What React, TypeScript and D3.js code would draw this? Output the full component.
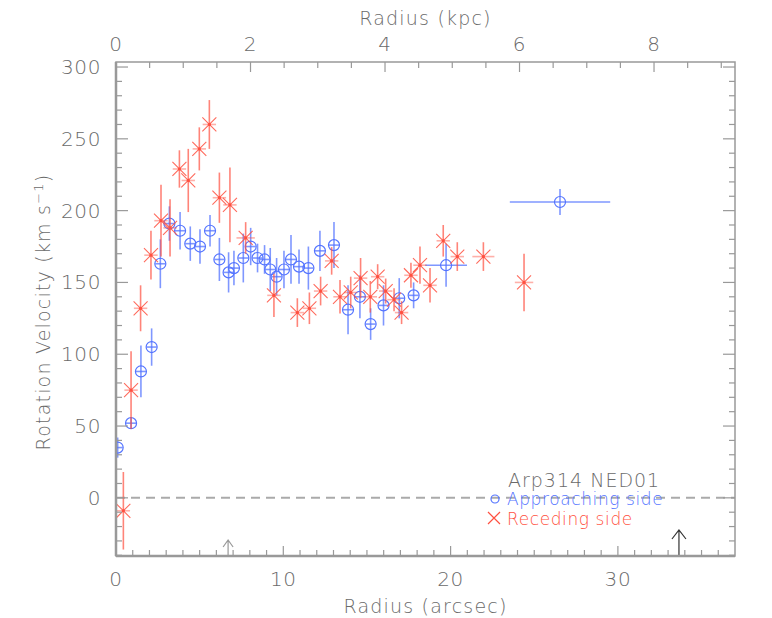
import { useEffect } from "react";
import * as d3 from "d3";

// approaching side (blue circles)
const appR = [0.1, 0.9, 1.49, 2.13, 2.65, 3.19, 3.83, 4.44, 5.02, 5.62, 6.18, 6.73, 7.05, 7.61, 8.05, 8.46, 8.88, 9.22, 9.6, 10.04, 10.46, 10.94, 11.5, 12.19, 13.03, 13.87, 14.58, 15.22, 15.99, 16.93, 17.79, 19.73, 26.54];
const appV = [35, 52, 88, 105, 163, 191, 186, 177, 175, 186, 166, 157, 160, 167, 175, 167, 166, 159, 154, 159, 166, 161, 160, 172, 176, 131, 140, 121, 134, 139, 141, 162, 206];
const appErr = [7, 4, 18, 13, 17, 12, 13, 12, 12, 11, 15, 14, 12, 17, 13, 10, 10, 15, 13, 13, 17, 12, 15, 14, 16, 17, 15, 11, 14, 14, 9, 15, 9];
const appRErr = [0.3, 0.3, 0.3, 0.3, 0.3, 0.3, 0.3, 0.3, 0.3, 0.3, 0.3, 0.3, 0.3, 0.3, 0.3, 0.3, 0.3, 0.3, 0.3, 0.3, 0.3, 0.3, 0.3, 0.3, 0.3, 0.3, 0.3, 0.3, 0.3, 0.3, 0.3, 1.25, 3.0];

// receding side (red crosses)
const recR = [0.44, 0.9, 1.47, 2.09, 2.69, 3.23, 3.79, 4.32, 4.98, 5.58, 6.18, 6.81, 7.75, 9.44, 10.84, 11.56, 12.23, 12.89, 13.39, 14.03, 14.62, 15.2, 15.64, 16.12, 16.62, 17.07, 17.63, 18.17, 18.77, 19.56, 20.4, 21.96, 24.39];
const recV = [-9, 75, 132, 169, 193, 188, 229, 221, 243, 260, 209, 204, 181, 141, 129, 132, 144, 165, 140, 143, 153, 140, 154, 144, 138, 129, 155, 162, 148, 179, 168, 168, 150];
const recErr = [27, 27, 16, 17, 25, 20, 13, 22, 15, 17, 17.5, 26, 11, 15, 10, 11, 10, 9.6, 11.7, 11, 14, 11, 8.7, 8.7, 8, 8, 8.7, 13, 12, 11, 10, 10, 20];
const recRErr = [0.4, 0.4, 0.4, 0.4, 0.4, 0.4, 0.4, 0.4, 0.4, 0.4, 0.4, 0.4, 0.55, 0.4, 0.4, 0.4, 0.4, 0.4, 0.4, 0.4, 0.4, 0.4, 0.4, 0.4, 0.4, 0.4, 0.4, 0.4, 0.4, 0.4, 0.4, 0.66, 0.55];

const arrowR = [6.7, 33.65];
const arrowLen = [16, 26];
const arrowCol = ["#999", "#333"];

const xTicks = [0, 10, 20, 30];
const kTicks = [0, 2, 4, 6, 8];
const yTicks = [0, 50, 100, 150, 200, 250, 300];
const ARCSEC_PER_KPC = 4.02;

const BLUE = "#5474ff";
const RED = "#ff5040";
const TXT = "#6a6a6a";
const AX = "#999";
const FONT = "'DejaVu Sans', sans-serif";

export default function App() {
  useEffect(() => { document.body.style.margin = "0"; }, []);
  const W = 772, H = 618, L = 116, R = 735, T = 62, B = 556;
  const x = d3.scaleLinear().domain([0, 37]).range([L, R]);
  const xk = d3.scaleLinear().domain([0, 37 / ARCSEC_PER_KPC]).range([L, R]);
  const y = d3.scaleLinear().domain([-40.5, 303.5]).range([B, T]);

  const minorX = d3.range(1, 37);
  const minorK = d3.range(0.5, 37 / ARCSEC_PER_KPC, 0.5);
  const minorY = d3.range(-40, 304, 10);

  const app = appR.map((r, i) => ({ r, v: appV[i], e: appErr[i], re: appRErr[i] }));
  const rec = recR.map((r, i) => ({ r, v: recV[i], e: recErr[i], re: recRErr[i] }));

  const cross = (cx: number, cy: number, s: number) => `M${cx - s},${cy - s}L${cx + s},${cy + s}M${cx - s},${cy + s}L${cx + s},${cy - s}`;
  const txt = { fontWeight: 200, fill: TXT, letterSpacing: 0.6 } as const;

  return (
    <svg width={W} height={H} style={{ display: "block", background: "#fff", fontFamily: FONT }}>
      <defs>
        <clipPath id="pc"><rect x={L} y={T} width={R - L} height={B - T} /></clipPath>
      </defs>

      {/* zero line */}
      <line x1={L} x2={R} y1={y(0)} y2={y(0)} stroke="#aaa" strokeWidth={2} strokeDasharray="9 6" />

      <g clipPath="url(#pc)">
        {/* approaching */}
        {app.map((d, i) => (
          <g key={i} stroke={BLUE} fill="none">
            <line x1={x(d.r)} x2={x(d.r)} y1={y(d.v - d.e)} y2={y(d.v + d.e)} strokeWidth={1.6} strokeOpacity={0.75} />
            <line x1={x(d.r - d.re)} x2={x(d.r + d.re)} y1={y(d.v)} y2={y(d.v)} strokeWidth={1.6} strokeOpacity={0.75} />
            <circle cx={x(d.r)} cy={y(d.v)} r={5.5} strokeWidth={1.2} />
          </g>
        ))}
        {/* receding */}
        {rec.map((d, i) => (
          <g key={i} stroke={RED} fill="none">
            <line x1={x(d.r)} x2={x(d.r)} y1={y(d.v - d.e)} y2={y(d.v + d.e)} strokeWidth={1.6} strokeOpacity={0.7} />
            <line x1={x(d.r - d.re)} x2={x(d.r + d.re)} y1={y(d.v)} y2={y(d.v)} strokeWidth={1.6} strokeOpacity={0.45} />
            <path d={cross(x(d.r), y(d.v), 7)} strokeWidth={1.1} strokeOpacity={0.85} />
            <circle cx={x(d.r)} cy={y(d.v)} r={1.6} fill={RED} stroke="none" />
          </g>
        ))}
      </g>

      {/* arrows */}
      {arrowR.map((r, i) => (
        <path key={i} d={`M${x(r)},${B}V${B - arrowLen[i]}M${x(r) - (i ? 7 : 5)},${B - arrowLen[i] + (i ? 9 : 7)}L${x(r)},${B - arrowLen[i]}L${x(r) + (i ? 7 : 5)},${B - arrowLen[i] + (i ? 9 : 7)}`} fill="none" stroke={arrowCol[i]} strokeWidth={1.2} />
      ))}

      {/* frame */}
      <rect x={L} y={T} width={R - L} height={B - T} fill="none" stroke={AX} strokeWidth={1.5} />
      <line x1={L} x2={L} y1={T} y2={B} stroke={AX} strokeWidth={2.5} />
      <line x1={L} x2={R} y1={B} y2={B} stroke={AX} strokeWidth={2.5} />

      {/* bottom arcsec ticks */}
      {minorX.map(t => (
        <line key={"bx" + t} x1={x(t)} x2={x(t)} y1={B} y2={B - (t % 10 === 0 ? 10 : 6)} stroke={AX} strokeWidth={1.2} />
      ))}
      {xTicks.map(t => (
        <text key={"xl" + t} x={x(t)} y={586} textAnchor="middle" fontSize={20} {...txt}>{t}</text>
      ))}
      {/* top kpc ticks */}
      {minorK.map(t => (
        <line key={"tk" + t} x1={xk(t)} x2={xk(t)} y1={T} y2={T + (t % 2 === 0 ? 10 : 6)} stroke={AX} strokeWidth={1.2} />
      ))}
      {kTicks.map(t => (
        <text key={"kl" + t} x={xk(t)} y={51} textAnchor="middle" fontSize={20} {...txt}>{t}</text>
      ))}
      {/* y ticks both sides */}
      {minorY.map(t => (
        <g key={"y" + t} stroke={AX} strokeWidth={1.2}>
          <line x1={L} x2={L + (t % 50 === 0 ? 12 : 6)} y1={y(t)} y2={y(t)} />
          <line x1={R} x2={R - (t % 50 === 0 ? 12 : 6)} y1={y(t)} y2={y(t)} />
        </g>
      ))}
      {yTicks.map(t => (
        <text key={"yl" + t} x={101} y={y(t) + 7} textAnchor="end" fontSize={20} {...txt}>{t}</text>
      ))}

      {/* axis titles */}
      <text x={x(18.5)} y={613} textAnchor="middle" fontSize={19} {...txt} letterSpacing={1.2}>Radius (arcsec)</text>
      <text x={x(18.5)} y={25} textAnchor="middle" fontSize={19} {...txt} letterSpacing={1.2}>Radius (kpc)</text>
      <text transform={`translate(50 ${(T + B) / 2 + 3}) rotate(-90)`} textAnchor="middle" fontSize={19} {...txt} letterSpacing={1.2}>
        Rotation Velocity (km s<tspan dy={-7} fontSize={13}>−1</tspan><tspan dy={7}>)</tspan>
      </text>

      {/* legend */}
      <text x={508} y={487} fontSize={19} {...txt} letterSpacing={1}>Arp314 NED01</text>
      <circle cx={495} cy={499} r={4} fill="none" stroke={BLUE} strokeWidth={1.2} />
      <text x={507} y={505} fontSize={17} fontWeight={200} fill={BLUE} letterSpacing={0.6}>Approaching side</text>
      <path d={cross(494, 518, 6)} fill="none" stroke={RED} strokeWidth={1.2} />
      <text x={507} y={525} fontSize={17} fontWeight={200} fill={RED} letterSpacing={0.6}>Receding side</text>
    </svg>
  );
}
